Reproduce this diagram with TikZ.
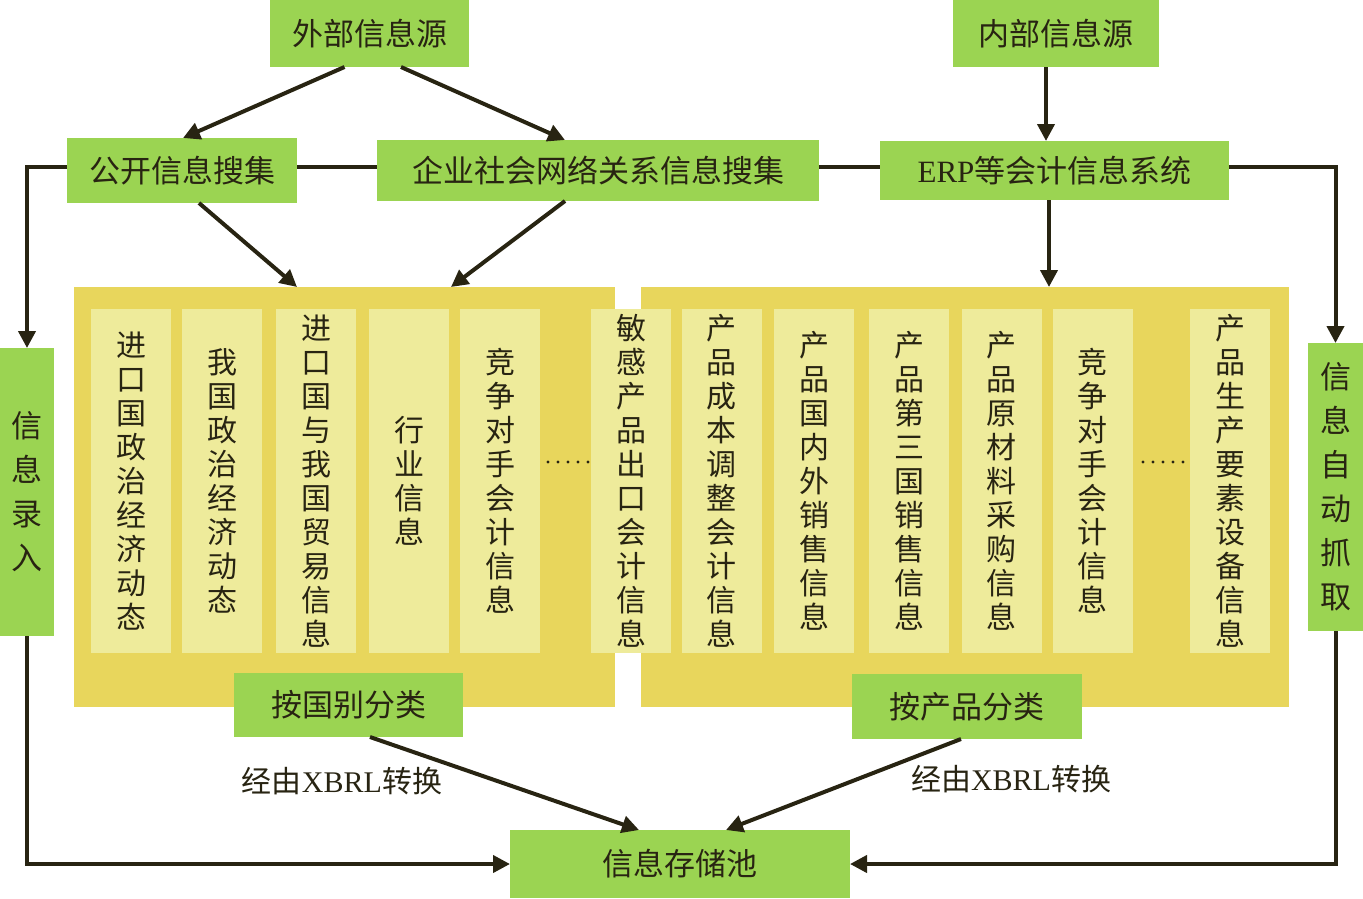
\documentclass[tikz,border=0pt]{standalone}
\usepackage{fontspec}
\setmainfont{Noto Sans CJK SC}
\newfontfamily\lat{Liberation Serif}
\usetikzlibrary{arrows.meta}
\definecolor{gr}{RGB}{155,212,82}
\definecolor{ye}{RGB}{232,214,92}
\definecolor{lc}{RGB}{238,235,155}
\definecolor{ink}{RGB}{40,36,18}
\begin{document}
\begin{tikzpicture}[x=1pt,y=-1pt,
 every node/.style={inner sep=0pt, outer sep=0pt},
 gbox/.style={fill=gr, draw=none, text=ink, font=\fontsize{31}{36}\selectfont},
 sidebox/.style={fill=gr, draw=none, text=ink, align=center, font=\fontsize{31}{44}\selectfont},
 panel/.style={fill=ye, draw=none},
 colbox/.style={fill=lc, draw=none, minimum width=80pt, minimum height=344pt, text=ink, align=center, font=\fontsize{30}{34}\selectfont},
 lbl/.style={text=ink, font=\fontsize{30}{34}\selectfont},
 arr/.style={draw=ink, line width=4pt, -{Triangle[length=17pt,width=17pt]}},
 ln/.style={draw=ink, line width=4pt},
 ]
\useasboundingbox (0,0) rectangle (1363,898);
% panels
\node[panel, minimum width=541pt, minimum height=420pt] (lp) at (344.5,497) {};
\node[panel, minimum width=648pt, minimum height=420pt] (rp) at (965,497) {};
% columns
\node[colbox] (c1) at (131,481) {进\\口\\国\\政\\治\\经\\济\\动\\态};
\node[colbox] (c2) at (222,481) {我\\国\\政\\治\\经\\济\\动\\态};
\node[colbox] (c3) at (316,481) {进\\口\\国\\与\\我\\国\\贸\\易\\信\\息};
\node[colbox] (c4) at (409,481) {行\\业\\信\\息};
\node[colbox] (c5) at (500,481) {竞\\争\\对\\手\\会\\计\\信\\息};
\node[colbox] (c6) at (631,481) {敏\\感\\产\\品\\出\\口\\会\\计\\信\\息};
\node[colbox] (c7) at (721.5,481) {产\\品\\成\\本\\调\\整\\会\\计\\信\\息};
\node[colbox] (c8) at (814,481) {产\\品\\国\\内\\外\\销\\售\\信\\息};
\node[colbox] (c9) at (909,481) {产\\品\\第\\三\\国\\销\\售\\信\\息};
\node[colbox] (c10) at (1001.5,481) {产\\品\\原\\材\\料\\采\\购\\信\\息};
\node[colbox] (c11) at (1092.5,481) {竞\\争\\对\\手\\会\\计\\信\\息};
\node[colbox] (c12) at (1230,481) {产\\品\\生\\产\\要\\素\\设\\备\\信\\息};
% dots
\foreach \i in {0,...,4} {
  \fill[ink] (548+\i*10,462) circle (1.7);
  \fill[ink] (1143+\i*10,462) circle (1.7);
}
% green boxes
\node[gbox, minimum width=199pt, minimum height=67pt] (ext) at (369.5,33.5) {外部信息源};
\node[gbox, minimum width=206pt, minimum height=67pt] (int) at (1056,33.5) {内部信息源};
\node[gbox, minimum width=230pt, minimum height=65pt] (pub) at (182,170.5) {公开信息搜集};
\node[gbox, minimum width=442pt, minimum height=61pt] (ent) at (598,170.5) {企业社会网络关系信息搜集};
\node[gbox, minimum width=349pt, minimum height=59pt] (erp) at (1054.5,170.5) {{\lat ERP}等会计信息系统};
\node[sidebox, minimum width=54pt, minimum height=288pt] (lr) at (27,492) {信\\息\\录\\入};
\node[sidebox, minimum width=55pt, minimum height=288pt] (auto) at (1335.5,487) {信\\息\\自\\动\\抓\\取};
\node[gbox, minimum width=229pt, minimum height=64pt] (cty) at (348.5,705) {按国别分类};
\node[gbox, minimum width=230pt, minimum height=65pt] (prd) at (967,706.5) {按产品分类};
\node[gbox, minimum width=340pt, minimum height=68pt] (pool) at (680,864) {信息存储池};
% labels
\node[lbl] (l1) at (342,781) {经由{\lat XBRL}转换};
\node[lbl] (l2) at (1011,779) {经由{\lat XBRL}转换};
% connectors
\draw[arr] ([xshift=-25pt]ext.south) -- ([xshift=1pt]pub.north);
\draw[arr] ([xshift=31.5pt]ext.south) -- ([xshift=-33pt]ent.north);
\draw[arr] ([xshift=17pt]pub.south) -- ([xshift=-47.5pt]lp.north);
\draw[arr] ([xshift=-33pt]ent.south) -- ([xshift=106.5pt]lp.north);
\draw[arr] ([xshift=-10pt]int.south) -- ([xshift=-8.5pt]erp.north);
\draw[arr] ([xshift=-5.5pt]erp.south) -- ([xshift=84pt]rp.north);
\draw[ln] ([yshift=4pt]pub.east) -- ([yshift=4pt]ent.west);
\draw[ln] ([yshift=4pt]ent.east) -- ([yshift=4pt]erp.west);
\draw[arr] ([yshift=4pt]pub.west) -| (lr.north);
\draw[arr] (lr.south) |- (pool.west);
\draw[arr] ([yshift=4pt]erp.east) -| (auto.north);
\draw[arr] (auto.south) |- (pool.east);
\draw[arr] ([xshift=21.5pt]cty.south) -- ([xshift=-41pt]pool.north);
\draw[arr] ([xshift=-6pt]prd.south) -- ([xshift=46pt]pool.north);
\end{tikzpicture}
\end{document}
